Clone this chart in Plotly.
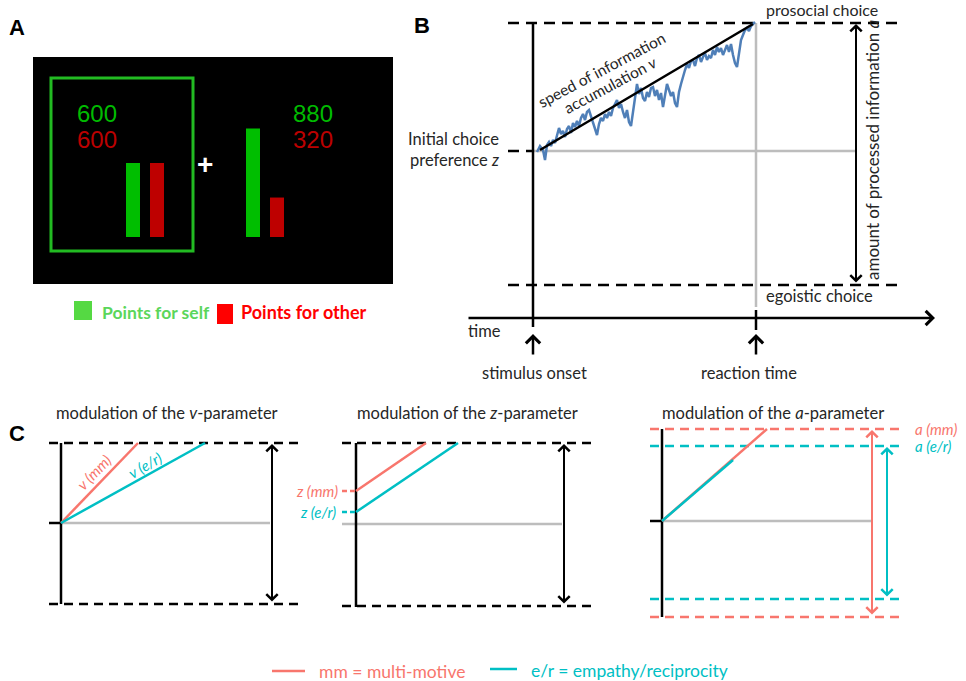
import plotly.graph_objects as go

FONT = "Lato"
TXT = "#262626"
GRAY = "#BDBDBD"
SALMON = "#F8766D"
CYAN = "#00BFC4"
BLUE = "#4F7FB8"

# ---------------- Panel A data ----------------
points_self = [600, 880]
points_other = [600, 320]
option_text_x = [97, 313]
bar_self_x = [133, 253]
bar_other_x = [157, 277]
bar_base = 237
bar_px_per_point = 0.1233
screen_box_x = [33, 393]
screen_box_y = [57, 284]
chosen_box_x = [51, 193]
chosen_box_y = [78, 251]
legend_sq_self_x = [74, 92]
legend_sq_self_y = [301, 320]
legend_sq_other_x = [217, 233]
legend_sq_other_y = [304, 324]

# ---------------- Panel B data ----------------
b_bound_x = [508, 903]
b_upper_y = 23
b_lower_y = 285
b_start_y = 151
b_onset_x = 533
b_rt_x = 756
b_gray_end_x = 856
b_time_y = 318
b_time_x = [467, 935]
drift_x = [540, 753]
drift_y = [150, 24]
walk_x = [537, 540, 543, 545, 547, 549, 551, 553, 555, 557, 559, 561, 563, 565,
          567, 569, 571, 573, 575, 577, 579, 581, 583, 585, 587, 589, 591, 593,
          595, 597, 599, 601, 603, 605, 607, 609, 611, 613, 615, 617, 619, 621,
          623, 625, 627, 629, 631, 633, 635, 637, 639, 641, 643, 645, 647, 649,
          651, 653, 655, 657, 659, 661, 663, 665, 667, 669, 671, 673, 675, 677,
          679, 681, 683, 685, 687, 689, 691, 693, 695, 697, 699, 701, 703, 705,
          707, 709, 711, 713, 715, 717, 719, 721, 723, 725, 727, 729, 731, 733,
          735, 737, 739, 741, 743, 745, 747, 749, 751, 753, 755]
walk_y = [152, 146, 150, 160, 145, 142, 146, 140, 143, 136, 128, 134, 131, 137,
          129, 126, 133, 123, 127, 121, 126, 118, 114, 120, 112, 110, 116, 122,
          130, 135, 124, 118, 121, 114, 118, 112, 116, 108, 104, 100, 108, 104,
          112, 118, 110, 122, 126, 112, 96, 84, 94, 88, 98, 101, 92, 97,
          88, 87, 96, 90, 100, 93, 107, 95, 84, 90, 96, 92, 103, 107,
          92, 84, 76, 70, 64, 68, 61, 60, 66, 58, 55, 62, 57, 53,
          60, 56, 58, 50, 55, 47, 52, 48, 55, 50, 45, 52, 44, 55,
          63, 67, 52, 40, 35, 30, 28, 31, 26, 24, 22]

# ---------------- Panel C data ----------------
c_titles = ["modulation of the <i>v</i>-parameter",
            "modulation of the <i>z</i>-parameter",
            "modulation of the <i>a</i>-parameter"]
c_title_x = [167, 467, 773]
c_title_y = 413
# v panel
cv_bound_x = [49, 302]
cv_upper_y = 443
cv_lower_y = 604
cv_axis_x = 61
cv_start_y = 523
cv_gray_end_x = 270
cv_arrow_x = 272
cv_mm_end_x = 138
cv_er_end_x = 205
# z panel
cz_bound_x = [342, 593]
cz_upper_y = 443
cz_lower_y = 606
cz_axis_x = 356
cz_neutral_y = 524
cz_gray_end_x = 562
cz_arrow_x = 564
cz_mm_start_y = 491
cz_er_start_y = 512
cz_mm_end_x = 426
cz_er_end_x = 458
# a panel
ca_bound_x = [650, 903]
ca_mm_upper_y = 429
ca_er_upper_y = 446
ca_er_lower_y = 599
ca_mm_lower_y = 617
ca_axis_x = 662
ca_start_y = 521
ca_gray_end_x = 871
ca_mm_end = [767, 429]
ca_er_end = [733, 460]
ca_mm_arrow_x = 872
ca_er_arrow_x = 887

fig = go.Figure()


def seg(xs, ys, color, width=2.5, dash=None):
    fig.add_trace(go.Scatter(x=xs, y=ys, mode="lines", hoverinfo="skip",
                             line=dict(color=color, width=width, dash=dash),
                             showlegend=False))


def text(x, y, s, size=16.5, color=TXT, xanchor="center", angle=0, family=FONT,
         yanchor="middle"):
    fig.add_annotation(x=x, y=y, text=s, showarrow=False, xanchor=xanchor,
                       yanchor=yanchor, textangle=angle,
                       font=dict(family=family, size=size, color=color))


def arrow(x0, y0, x1, y1, color="black", both=False, width=2, size=1.1):
    fig.add_annotation(x=x1, y=y1, ax=x0, ay=y0, xref="x", yref="y",
                       axref="x", ayref="y", text="", showarrow=True,
                       arrowhead=4, startarrowhead=4, arrowsize=size,
                       startarrowsize=size, arrowwidth=width,
                       arrowcolor=color,
                       arrowside="end+start" if both else "end")


# ================= Panel A =================
fig.add_shape(type="rect", x0=screen_box_x[0], x1=screen_box_x[1],
              y0=screen_box_y[0], y1=screen_box_y[1],
              fillcolor="black", line=dict(width=0), layer="below")
fig.add_shape(type="rect", x0=chosen_box_x[0], x1=chosen_box_x[1],
              y0=chosen_box_y[0], y1=chosen_box_y[1],
              line=dict(color="#22BB22", width=3), layer="below")
fig.add_trace(go.Bar(x=bar_self_x, y=[-v * bar_px_per_point for v in points_self],
                     base=bar_base, width=14, marker=dict(color="#00BE00", line_width=0),
                     showlegend=False, hoverinfo="skip"))
fig.add_trace(go.Bar(x=bar_other_x, y=[-v * bar_px_per_point for v in points_other],
                     base=bar_base, width=14, marker=dict(color="#BE0000", line_width=0),
                     showlegend=False, hoverinfo="skip"))
for xx, ps, po in zip(option_text_x, points_self, points_other):
    text(xx, 113, str(ps), size=24, color="#00BB00", family="Liberation Sans")
    text(xx, 139, str(po), size=24, color="#BB0000", family="Liberation Sans")
text(205, 164, "<b>+</b>", size=28, color="white", family="Liberation Sans")
fig.add_shape(type="rect", x0=legend_sq_self_x[0], x1=legend_sq_self_x[1],
              y0=legend_sq_self_y[0], y1=legend_sq_self_y[1],
              fillcolor="#55D943", line=dict(width=0))
fig.add_shape(type="rect", x0=legend_sq_other_x[0], x1=legend_sq_other_x[1],
              y0=legend_sq_other_y[0], y1=legend_sq_other_y[1],
              fillcolor="#FF0000", line=dict(width=0))
text(100, 312, "<b>Points for self</b>", size=17.5, color="#5BD65B", xanchor="left")
text(239, 312, "<b>Points for other</b>", size=18, color="#FF0000", xanchor="left")
text(17, 27, "<b>A</b>", size=22, color="black", family="Liberation Sans")

# ================= Panel B =================
text(422, 25, "<b>B</b>", size=22, color="black", family="Liberation Sans")
B_DASH = "11px,7px"
seg(b_bound_x, [b_upper_y, b_upper_y], "black", 2.5, B_DASH)
seg(b_bound_x, [b_lower_y, b_lower_y], "black", 2.5, B_DASH)
seg([b_bound_x[0], b_onset_x], [b_start_y, b_start_y], "black", 2.5, B_DASH)
seg([b_onset_x, b_gray_end_x], [b_start_y, b_start_y], GRAY, 2.5)
seg([b_rt_x, b_rt_x], [b_upper_y, 307], GRAY, 2.5)
seg([b_onset_x, b_onset_x], [b_upper_y, 327], "black", 2.5)
seg([b_rt_x, b_rt_x], [310, 330], "black", 2.5)
seg(walk_x, walk_y, BLUE, 2.5)
seg(drift_x, drift_y, "black", 2.5)
arrow(b_time_x[0], b_time_y, b_time_x[1], b_time_y, width=2.5)
arrow(b_onset_x, 356, b_onset_x, 334, width=2.5)
arrow(b_rt_x, 356, b_rt_x, 334, width=2.5)
arrow(b_gray_end_x, b_lower_y - 1, b_gray_end_x, b_upper_y + 1, both=True, width=2)

text(822, 9, "prosocial choice", size=16)
text(819, 296, "egoistic choice")
text(484, 331, "time")
text(534, 373, "stimulus onset")
text(749, 373, "reaction time")
text(501, 139, "Initial choice", xanchor="right")
text(501, 160, "preference <i>z</i>", xanchor="right")
text(601, 70, "speed of information", size=15.5, angle=-28)
text(610, 85, "accumulation <i>v</i>", size=15.5, angle=-28)
text(872, 150, "amount of processed information <i>a</i>", size=17, angle=-90)

# ================= Panel C =================
text(17, 433, "<b>C</b>", size=22, color="black", family="Liberation Sans")
for t, xx in zip(c_titles, c_title_x):
    text(xx, c_title_y, t)
C_DASH = "9px,6px"

# v panel
seg(cv_bound_x, [cv_upper_y, cv_upper_y], "black", 2.5, C_DASH)
seg(cv_bound_x, [cv_lower_y, cv_lower_y], "black", 2.5, C_DASH)
seg([cv_bound_x[0], cv_axis_x], [cv_start_y, cv_start_y], "black", 2.5)
seg([cv_axis_x, cv_gray_end_x], [cv_start_y, cv_start_y], GRAY, 2.5)
seg([cv_axis_x, cv_axis_x], [cv_upper_y, cv_lower_y], "black", 2.5)
seg([cv_axis_x, cv_mm_end_x], [cv_start_y, cv_upper_y], SALMON, 2.5)
seg([cv_axis_x, cv_er_end_x], [cv_start_y, cv_upper_y], CYAN, 2.5)
arrow(cv_arrow_x, cv_lower_y - 1, cv_arrow_x, cv_upper_y + 1, both=True)
text(94, 472, "<i>v (mm)</i>", size=15, color=SALMON, angle=-46)
text(145, 465, "<i>v (e/r)</i>", size=15, color=CYAN, angle=-30)

# z panel
seg(cz_bound_x, [cz_upper_y, cz_upper_y], "black", 2.5, C_DASH)
seg(cz_bound_x, [cz_lower_y, cz_lower_y], "black", 2.5, C_DASH)
seg([cz_bound_x[0], cz_gray_end_x], [cz_neutral_y, cz_neutral_y], GRAY, 2.5)
seg([cz_axis_x, cz_axis_x], [cz_upper_y, cz_lower_y + 1], "black", 2.5)
seg([cz_bound_x[0], cz_axis_x], [cz_mm_start_y, cz_mm_start_y], SALMON, 2.5, "5px,3px")
seg([cz_bound_x[0], cz_axis_x], [cz_er_start_y, cz_er_start_y], CYAN, 2.5, "5px,3px")
seg([cz_axis_x, cz_mm_end_x], [cz_mm_start_y, cz_upper_y], SALMON, 2.5)
seg([cz_axis_x, cz_er_end_x], [cz_er_start_y, cz_upper_y], CYAN, 2.5)
arrow(cz_arrow_x, cz_lower_y - 1, cz_arrow_x, cz_upper_y + 1, both=True)
text(340, 491, "<i>z (mm)</i>", size=15, color=SALMON, xanchor="right")
text(338, 512, "<i>z (e/r)</i>", size=15, color=CYAN, xanchor="right")

# a panel
seg(ca_bound_x, [ca_mm_upper_y, ca_mm_upper_y], SALMON, 2.5, C_DASH)
seg(ca_bound_x, [ca_er_upper_y, ca_er_upper_y], CYAN, 2.5, C_DASH)
seg(ca_bound_x, [ca_er_lower_y, ca_er_lower_y], CYAN, 2.5, C_DASH)
seg(ca_bound_x, [ca_mm_lower_y, ca_mm_lower_y], SALMON, 2.5, C_DASH)
seg([ca_bound_x[0], ca_axis_x], [ca_start_y, ca_start_y], "black", 2.5)
seg([ca_axis_x, ca_gray_end_x], [ca_start_y, ca_start_y], GRAY, 2.5)
seg([ca_axis_x, ca_axis_x], [ca_mm_upper_y, ca_mm_lower_y], "black", 2.5)
seg([ca_axis_x, ca_mm_end[0]], [ca_start_y, ca_mm_end[1]], SALMON, 2.5)
seg([ca_axis_x, ca_er_end[0]], [ca_start_y, ca_er_end[1]], CYAN, 2.5)
arrow(ca_mm_arrow_x, ca_mm_lower_y - 1, ca_mm_arrow_x, ca_mm_upper_y + 1,
      color=SALMON, both=True)
arrow(ca_er_arrow_x, ca_er_lower_y - 1, ca_er_arrow_x, ca_er_upper_y + 1,
      color=CYAN, both=True)
text(913, 429, "<i>a (mm)</i>", size=15, color=SALMON, xanchor="left")
text(913, 446, "<i>a (e/r)</i>", size=15, color=CYAN, xanchor="left")

# bottom legend
seg([272, 305], [671, 671], SALMON, 2.5)
text(317, 671, "mm = multi-motive", size=17.5, color=SALMON, xanchor="left")
seg([490, 517], [669, 669], CYAN, 2.5)
text(529, 670, "e/r = empathy/reciprocity", size=17.5, color=CYAN, xanchor="left")

fig.update_layout(
    width=966, height=681, autosize=False, margin=dict(l=0, r=0, t=0, b=0),
    paper_bgcolor="white", plot_bgcolor="white", barmode="overlay",
    showlegend=False,
    xaxis=dict(range=[0, 966], visible=False, fixedrange=True),
    yaxis=dict(range=[681, 0], visible=False, fixedrange=True),
)
fig.write_html(
    "out.html",
    config={"displayModeBar": False},
    post_script="document.body.style.margin='0';document.body.style.overflow='hidden';",
)
